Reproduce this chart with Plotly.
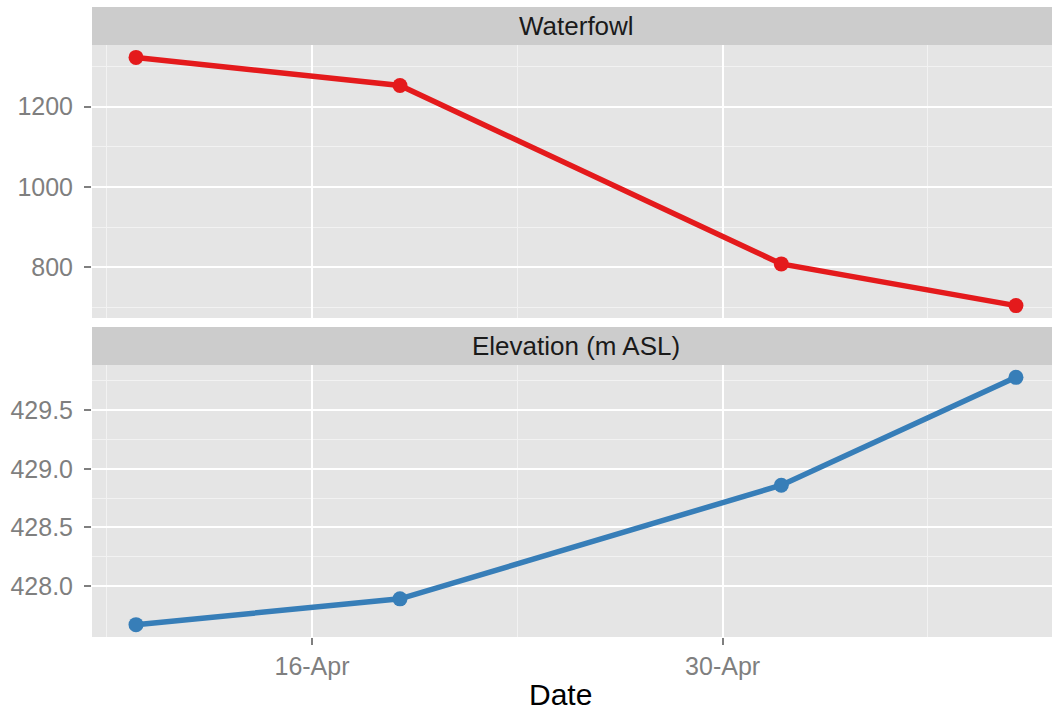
import plotly.graph_objects as go
import pandas as pd

# Survey dates and the two measured series
dates = ["2013-04-10", "2013-04-19", "2013-05-02", "2013-05-10"]
waterfowl = [1323, 1253, 808, 704]
elevation = [427.67, 427.89, 428.86, 429.78]

panel_titles = ["Waterfowl", "Elevation (m ASL)"]
x_tickvals = ["2013-04-16", "2013-04-30"]
x_ticktext = ["16-Apr", "30-Apr"]
x_title = "Date"

W, H = 1052, 715
RED = "#E41A1C"
BLUE = "#377EB8"
PANEL_BG = "#E5E5E5"
STRIP_BG = "#CCCCCC"
TICK_GREY = "#7F7F7F"
FONT = "Liberation Sans, Arial, sans-serif"


def py(px):
    """Convert a pixel row (from top) into paper y."""
    return 1 - px / H


def padded(vals, frac=0.05):
    lo, hi = min(vals), max(vals)
    d = (hi - lo) * frac
    return [lo - d, hi + d]


t = pd.to_datetime(dates)
x_start = t.min() - pd.Timedelta(days=1.5)
x_end = t.max() + pd.Timedelta(hours=29.5)
x_range = [x_start.strftime("%Y-%m-%d %H:%M"), x_end.strftime("%Y-%m-%d %H:%M")]

fig = go.Figure()

fig.add_trace(go.Scatter(
    x=dates, y=waterfowl, mode="lines+markers",
    line=dict(color=RED, width=5.5), marker=dict(color=RED, size=15),
    xaxis="x", yaxis="y", showlegend=False,
))
fig.add_trace(go.Scatter(
    x=dates, y=elevation, mode="lines+markers",
    line=dict(color=BLUE, width=5.5), marker=dict(color=BLUE, size=15),
    xaxis="x2", yaxis="y2", showlegend=False,
))

top_dom = [py(318), py(45)]
bot_dom = [py(637), py(365)]

xaxis_common = dict(
    type="date", range=x_range, tickvals=x_tickvals, ticktext=x_ticktext,
    showgrid=True, gridcolor="white", gridwidth=2,
    minor=dict(dtick=7 * 86400000, tick0="2013-04-02", showgrid=True,
               gridcolor="#F2F2F2", gridwidth=1),
    zeroline=False, showline=False, domain=[0, 1],
    ticklen=7, tickwidth=1.5, tickcolor=TICK_GREY,
    tickfont=dict(family=FONT, size=25, color=TICK_GREY),
)

yaxis_common = dict(
    showgrid=True, gridcolor="white", gridwidth=2,
    zeroline=False, showline=False,
    ticks="outside", ticklen=7, tickwidth=1.5, tickcolor=TICK_GREY,
    ticklabelstandoff=6,
    tickfont=dict(family=FONT, size=25, color=TICK_GREY),
)

fig.update_layout(
    width=W, height=H,
    margin=dict(l=92, r=0, t=0, b=0),
    paper_bgcolor="white", plot_bgcolor=PANEL_BG,
    xaxis=dict(**xaxis_common, anchor="y", showticklabels=False, ticks=""),
    xaxis2=dict(**xaxis_common, anchor="y2", ticks="outside"),
    yaxis=dict(**yaxis_common, domain=top_dom, anchor="x", range=padded(waterfowl),
               tickvals=[800, 1000, 1200],
               minor=dict(tickvals=[700, 900, 1100, 1300], showgrid=True,
                          gridcolor="#F2F2F2", gridwidth=1)),
    yaxis2=dict(**yaxis_common, domain=bot_dom, anchor="x2", range=padded(elevation),
                tickvals=[428.0, 428.5, 429.0, 429.5], tickformat=".1f",
                minor=dict(tickvals=[428.25, 428.75, 429.25, 429.75], showgrid=True,
                           gridcolor="#F2F2F2", gridwidth=1)),
)

# Facet strips with their titles
strips = [(7, 45), (327, 365)]
for (top_px, bot_px), label in zip(strips, panel_titles):
    fig.add_shape(type="rect", xref="paper", yref="paper",
                  x0=0, x1=1.02, y0=py(bot_px), y1=py(top_px),
                  fillcolor=STRIP_BG, line=dict(width=0), layer="below")
    fig.add_annotation(xref="paper", yref="paper",
                       x=(576 - 92) / (W - 92), y=py((top_px + bot_px) / 2),
                       text=label, showarrow=False, xanchor="center", yanchor="middle",
                       font=dict(family=FONT, size=26, color="#1A1A1A"))

# Shared x-axis title
fig.add_annotation(xref="paper", yref="paper",
                   x=(560 - 92) / (W - 92), y=py(694),
                   text=x_title, showarrow=False, xanchor="center", yanchor="middle",
                   font=dict(family=FONT, size=30, color="black"))

fig.write_html("out.html")
